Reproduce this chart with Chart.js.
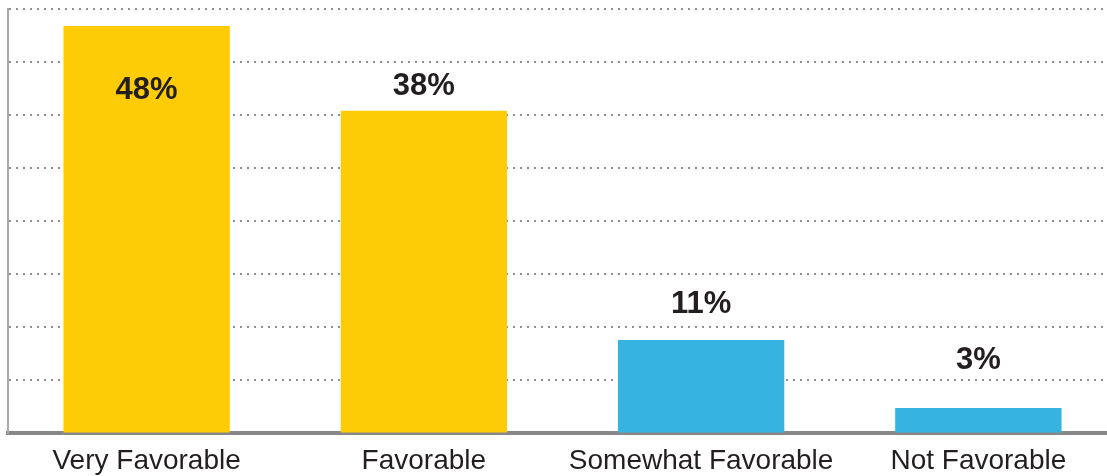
<!DOCTYPE html>
<html>
<head>
<meta charset="utf-8">
<script src="https://cdn.jsdelivr.net/npm/chart.js@4"></script>
<style>
  html, body { margin: 0; padding: 0; background: #fff; overflow: hidden; }
  #wrap { width: 1117px; height: 489px; position: relative; }
</style>
</head>
<body>
<div id="wrap"><canvas id="favorChart"></canvas></div>
<script>
const categories = ["Very Favorable", "Favorable", "Somewhat Favorable", "Not Favorable"];
const values = [48, 38, 11, 3];
const valueLabels = ["48%", "38%", "11%", "3%"];
const barColors = ["#FECC07", "#FECC07", "#36B3E0", "#36B3E0"];
// label placement relative to bar top (px)
const labelOffsets = [64, -24, -36, -47];

const valueLabelPlugin = {
  id: "valueLabels",
  afterDatasetsDraw(chart) {
    const ctx = chart.ctx;
    const meta = chart.getDatasetMeta(0);
    ctx.save();
    ctx.font = "bold 31px 'Liberation Sans', Arial, sans-serif";
    ctx.fillStyle = "#231F20";
    ctx.textAlign = "center";
    ctx.textBaseline = "middle";
    meta.data.forEach((bar, i) => {
      ctx.fillText(valueLabels[i], bar.x, bar.y + labelOffsets[i]);
    });
    ctx.restore();
  },
};

new Chart(document.getElementById("favorChart"), {
  type: "bar",
  data: {
    labels: categories,
    datasets: [
      {
        data: values,
        backgroundColor: barColors,
        barPercentage: 0.6,
        categoryPercentage: 1.0,
      },
    ],
  },
  options: {
    responsive: true,
    maintainAspectRatio: false,
    animation: false,
    layout: { padding: { top: 9, left: 8, right: 0, bottom: 0 } },
    plugins: {
      legend: { display: false },
      tooltip: { enabled: false },
    },
    scales: {
      x: {
        grid: { display: false, drawTicks: false },
        border: { display: true, color: "#888888", width: 4 },
        ticks: {
          color: "#231F20",
          padding: 11,
          font: { family: "'Liberation Sans', Arial, sans-serif", size: 28 },
        },
      },
      y: {
        min: 0,
        max: 50,
        ticks: { display: false, stepSize: 6.25 },
        grid: {
          color: "#8f8f8f",
          lineWidth: 2,
          drawTicks: false,
        },
        border: { display: true, color: "#AAAAAA", width: 2, dash: [2, 5] },
      },
    },
  },
  plugins: [valueLabelPlugin],
});
</script>
</body>
</html>
